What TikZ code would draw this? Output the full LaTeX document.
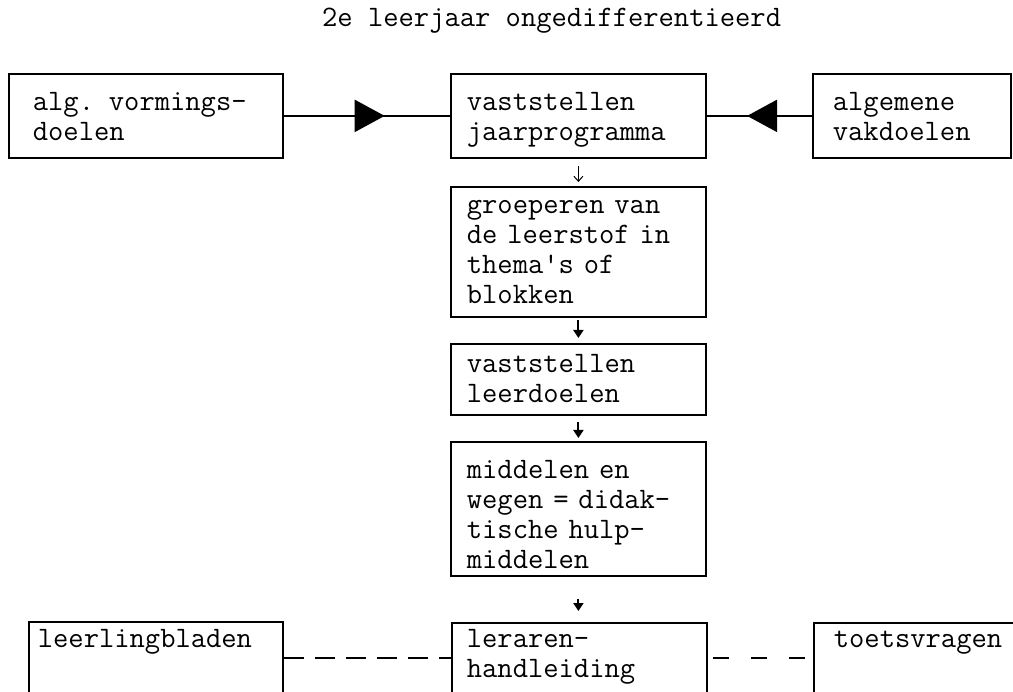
\documentclass[tikz,border=0pt]{standalone}
\usepackage{fontspec}
\usetikzlibrary{arrows.meta,decorations.markings,calc}
\begin{document}
\begin{tikzpicture}[x=1pt,y=-1pt,
  every node/.style={font=\ttfamily\fontsize{29.7}{30}\selectfont\addfontfeatures{FakeBold=1.2}},
  box/.style={draw, line width=1.8pt, anchor=north west, inner ysep=0pt, align=left},
  conn/.style={line width=2.2pt},
  bigtip/.tip={Triangle[length=30pt,width=32pt]},
  thinarrow/.style={line width=1pt, -{Straight Barb[length=5pt,width=9pt]}},
  boldarrow/.style={line width=2pt, -{Triangle[length=8pt,width=10pt]}},
  dashL/.style={line width=2.2pt, dash pattern=on 20pt off 11pt},
  dashR/.style={line width=2.2pt, dash pattern=on 16pt off 22pt, dash phase=-5pt}
]
\useasboundingbox (0,0) rectangle (1013,692);
\clip (0,0) rectangle (1013,692);

\node[anchor=base west, inner sep=0pt] (title) at (322,27) {2e leerjaar ongedifferentieerd};

\node[box, inner xsep=24pt, text width=226pt, text height=37pt, text depth=47pt] (lb) at (8,73) {alg. vormings-\\doelen};
\node[box, inner xsep=16pt, text width=223pt, text height=37pt, text depth=47pt] (c1) at (450,73) {vaststellen\\jaarprogramma};
\node[box, inner xsep=20pt, text width=158pt, text height=37pt, text depth=47pt] (rb) at (812,73) {algemene\\vakdoelen};

\node[box, inner xsep=16pt, text width=223pt, text height=27pt, text depth=103pt] (c2) at (450,186) {groeperen van\\de leerstof in\\thema's of\\blokken};
\node[box, inner xsep=16pt, text width=223pt, text height=29pt, text depth=42pt] (c3) at (450,343) {vaststellen\\leerdoelen};
\node[box, inner xsep=16pt, text width=223pt, text height=37pt, text depth=97pt] (c4) at (450,441) {middelen en\\wegen = didak-\\tische hulp-\\middelen};

\node[box, inner xsep=9pt, text width=236pt, text height=26pt, text depth=100pt] (bl) at (28,621) {leerlingbladen};
\node[box, inner xsep=15pt, text width=225pt, text height=25pt, text depth=100pt] (bc) at (451,622) {leraren-\\handleiding};
\node[box, inner xsep=20pt, text width=190pt, text height=25pt, text depth=100pt] (br) at (813,622) {toetsvragen};

\draw[conn, postaction={decorate}, decoration={markings, mark=at position 0.607 with {\arrow{bigtip}}}] (lb) -- (c1);
\draw[conn, postaction={decorate}, decoration={markings, mark=at position 0.617 with {\arrow{bigtip}}}] (rb) -- (c1);

\draw[thinarrow, shorten <=7pt, shorten >=4pt] (c1) -- (c2);
\draw[boldarrow, shorten <=2pt, shorten >=5pt] (c2) -- (c3);
\draw[boldarrow, shorten <=6pt, shorten >=3pt] (c3) -- (c4);
\draw[boldarrow, shorten <=22pt, shorten >=11pt] (c4.south) -- (c4.south |- bc.north);

\draw[dashL] ($(bl.north east)+(0,37)$) -- ($(bc.north west)+(0,36)$);
\draw[dashR] ($(bc.north east)+(0,36)$) -- ($(br.north west)+(0,36)$);
\end{tikzpicture}
\end{document}
